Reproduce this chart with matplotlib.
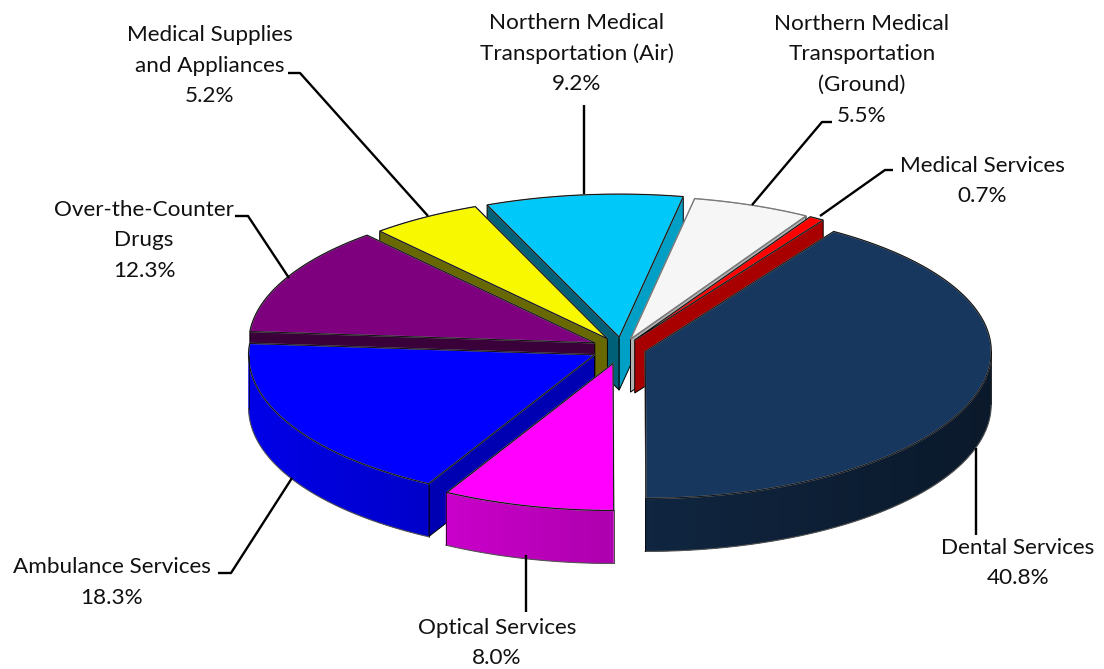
import numpy as np
import matplotlib
matplotlib.use("Agg")
import matplotlib.pyplot as plt
from matplotlib.colors import to_rgb
from matplotlib.patches import Polygon

plt.rcParams["font.family"] = ["Lato", "DejaVu Sans"]

# slices, clockwise from the first one
names = ["Dental Services", "Optical Services", "Ambulance Services", "Over-the-Counter Drugs",
         "Medical Supplies and Appliances", "Northern Medical Transportation (Air)",
         "Northern Medical Transportation (Ground)", "Medical Services"]
shares = [40.8, 8.0, 18.3, 12.3, 5.2, 9.2, 5.5, 0.7]
colors = ["#17375E", "#FF00FF", "#0000FF", "#7F007F", "#F8F800", "#00C8F8", "#F6F6F6", "#FF0000"]
explode = [0.07, 0.105, 0.09, 0.088, 0.08, 0.08, 0.07, 0.07]

# how dark the cut faces are (start edge, end edge)
start_shade = [0.5, 0.7, 0.7, 0.45, 0.42, 0.48, 0.7, 0.65]
end_shade = [0.5, 0.7, 0.7, 0.3, 0.42, 0.8, 0.72, 0.66]

# label text, x centre, y of first line
label_lines = [
    (["Dental Services", "40.8%"], 1018, 548),
    (["Optical Services", "8.0%"], 497, 628),
    (["Ambulance Services", "18.3%"], 112, 567),
    (["Over-the-Counter", "Drugs", "12.3%"], 144, 210),
    (["Medical Supplies", "and Appliances", "5.2%"], 210, 35),
    (["Northern Medical", "Transportation (Air)", "9.2%"], 577, 23),
    (["Northern Medical", "Transportation", "(Ground)", "5.5%"], 862, 24),
    (["Medical Services", "0.7%"], 982, 166),
]

leaders = [
    [(976, 448), (976, 535)],
    [(526, 555), (526, 612)],
    [(292, 478), (231, 573), (218, 573)],
    [(289, 278), (248, 216), (235, 216)],
    [(428, 216), (300, 73), (288, 73)],
    [(584, 194), (584, 105)],
    [(752, 205), (822, 122), (832, 122)],
    [(820, 216), (885, 170), (893, 170)],
]

CX, CY = 622, 348.5
RX = 346
RY_FRONT, RY_BACK = 147, 143
THICK = 53
START = 33.0
LINE_PITCH = 30.5


def rim_point(t):
    t = np.radians(t)
    ry = RY_FRONT if np.cos(t) < 0 else RY_BACK
    return np.array([RX * np.sin(t), -ry * np.cos(t)])


def shade(color, f):
    return tuple(c * f for c in to_rgb(color))


def draw_slice(ax, t0, t1, color, exp, s_start, s_end):
    mid = (t0 + t1) / 2
    apex = np.array([CX, CY]) + exp * rim_point(mid)
    down = np.array([0, THICK])
    angles = np.linspace(t0, t1, max(int(t1 - t0) * 2, 4))
    arc = np.array([apex + rim_point(t) for t in angles])

    # cut faces, only those turned towards the viewer
    if np.sin(np.radians(t0)) < -1e-3:
        p = arc[0]
        ax.add_patch(Polygon([apex, p, p + down, apex + down], fc=shade(color, s_start), ec="black", lw=0.7))
    if np.sin(np.radians(t1)) > 1e-3:
        p = arc[-1]
        ax.add_patch(Polygon([apex, p, p + down, apex + down], fc=shade(color, s_end), ec="black", lw=0.7))

    # outer rim with its left to right gradient, each strip overlaps the next one
    vis = [t for t in np.arange(t0, t1 + 0.5, 0.5) if 90 <= t <= 270]
    for k in range(len(vis) - 1):
        a, b = vis[k], vis[min(k + 3, len(vis) - 1)]
        f = 0.68 - 0.23 * np.sin(np.radians(a + 0.25))
        pa, pb = apex + rim_point(a), apex + rim_point(b)
        ax.add_patch(Polygon([pa, pb, pb + down, pa + down], fc=shade(color, f), ec="none", lw=0))
    if vis:
        low = np.array([apex + rim_point(t) + down for t in vis])
        ax.plot(low[:, 0], low[:, 1], color="#555555", lw=0.8)
        for t in (vis[0], vis[-1]):
            p = apex + rim_point(t)
            ax.plot([p[0], p[0]], [p[1], p[1] + THICK], color="black", lw=0.5)

    # top surface
    pts = np.vstack([apex, arc])
    ax.add_patch(Polygon(pts, fc=color, ec="#8a8a8a", lw=1.0, joinstyle="miter"))
    ax.add_patch(Polygon(pts, fc="none", ec="black" if color != "#F6F6F6" else "#777777", lw=0.6, joinstyle="miter"))


fig = plt.figure(figsize=(11.04, 6.69), dpi=100)
ax = fig.add_axes([0, 0, 1, 1])
ax.set_xlim(0, 1104)
ax.set_ylim(669, 0)
ax.axis("off")

edges = START + np.cumsum([0] + shares) * 3.6
slices = []
for i in range(len(shares)):
    slices.append((edges[i], edges[i + 1], colors[i], explode[i], start_shade[i], end_shade[i]))

# back to front
slices.sort(key=lambda s: -np.cos(np.radians((s[0] + s[1]) / 2)))
for s in slices:
    draw_slice(ax, *s)

for pts in leaders:
    xs, ys = zip(*pts)
    ax.plot(xs, ys, color="black", lw=1.7, solid_capstyle="butt", zorder=5)

for lines, x, y in label_lines:
    for i, line in enumerate(lines):
        ax.text(x, y + i * LINE_PITCH, line, ha="center", va="center", fontsize=16.2, color="#111111")

fig.savefig("out.png", dpi=100)
